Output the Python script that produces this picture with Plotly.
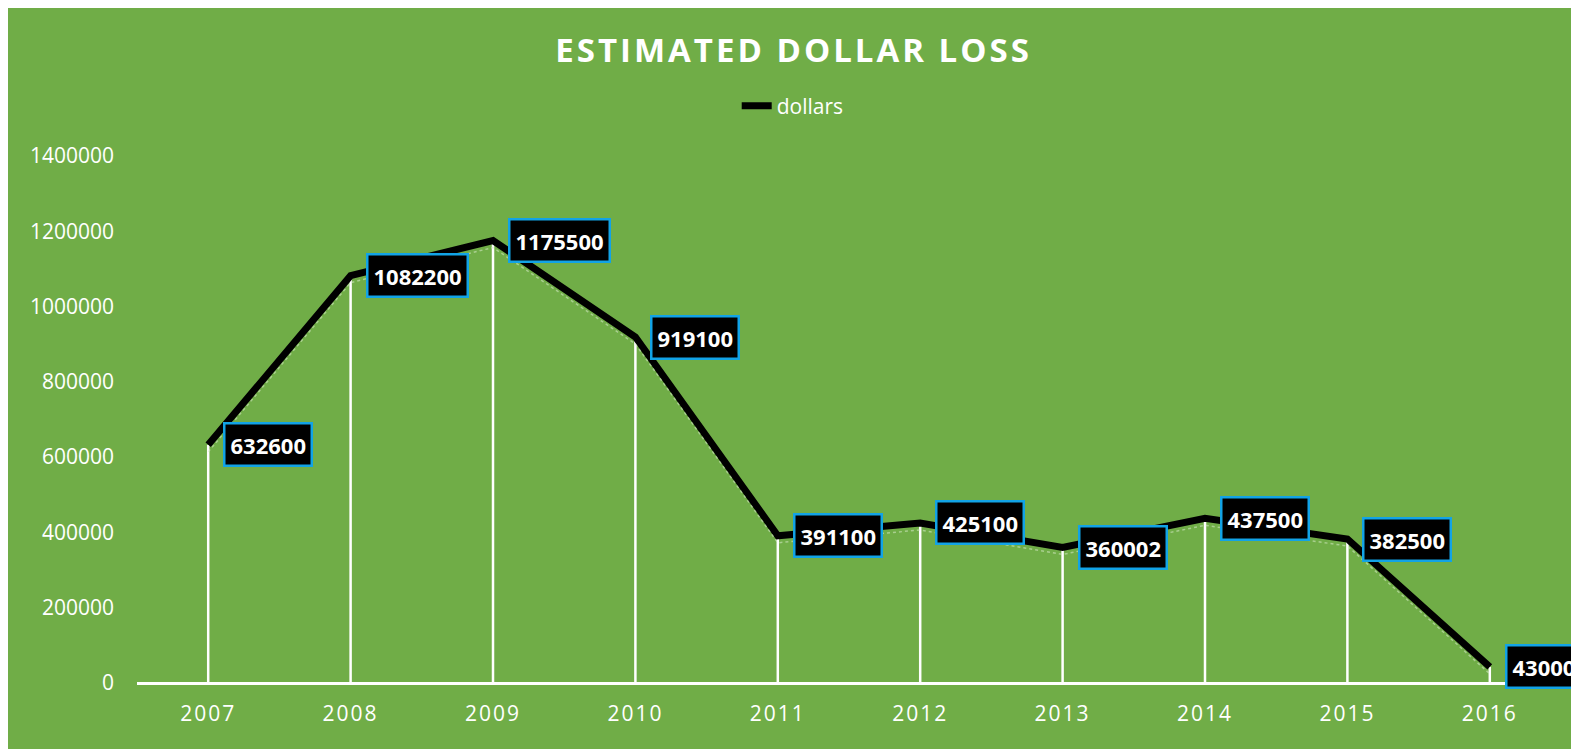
import plotly.graph_objects as go

years = ["2007", "2008", "2009", "2010", "2011", "2012", "2013", "2014", "2015", "2016"]
dollars = [632600, 1082200, 1175500, 919100, 391100, 425100, 360002, 437500, 382500, 43000]
y_ticks = [0, 200000, 400000, 600000, 800000, 1000000, 1200000, 1400000]

GREEN = "#70AD47"
FONT = "Open Sans"
W, H = 1579, 749
Y_MAX = 1400000
PLOT_H = 749 - 148 - 74
SHADOW_PX = 7  # faint shadow line offset, in pixels

xpos = list(range(len(years)))

# white drop lines from axis to each value
drop_x, drop_y = [], []
for i, v in zip(xpos, dollars):
    drop_x += [i, i, None]
    drop_y += [0, v, None]

shift = SHADOW_PX / PLOT_H * Y_MAX

fig = go.Figure()
fig.add_trace(go.Scatter(x=xpos, y=dollars, mode="lines", yaxis="y2",
                         line=dict(color="rgba(215,235,200,0.55)", width=1.5, dash="dot"),
                         showlegend=False, hoverinfo="skip", cliponaxis=False))
fig.add_trace(go.Scatter(x=drop_x, y=drop_y, mode="lines",
                         line=dict(color="white", width=2.5),
                         showlegend=False, hoverinfo="skip", cliponaxis=False))
fig.add_trace(go.Scatter(x=xpos, y=dollars, mode="lines", name="dollars",
                         line=dict(color="black", width=7), cliponaxis=False))

for i, v in zip(xpos, dollars):
    fig.add_annotation(x=i, y=v, text=f"<b>{v}</b>", showarrow=False,
                       xanchor="left", yanchor="middle", xshift=15,
                       bgcolor="black", bordercolor="#12A3E6", borderwidth=2.5,
                       borderpad=5, font=dict(color="white", size=22, family=FONT))

fig.update_layout(
    width=W, height=H,
    paper_bgcolor=GREEN, plot_bgcolor=GREEN,
    margin=dict(l=129, r=26, t=148, b=74),
    title=dict(text='<span style="letter-spacing:3px"><b>ESTIMATED DOLLAR LOSS</b></span>',
               x=0.4975, xanchor="center",
               y=1 - 42 / H, yanchor="middle",
               font=dict(color="white", size=33, family=FONT)),
    legend=dict(orientation="h", xref="container", x=0.4615, xanchor="left",
                yref="container", y=1 - 98 / H, yanchor="middle",
                font=dict(color="white", size=21, family=FONT),
                bgcolor="rgba(0,0,0,0)"),
    showlegend=True,
    xaxis=dict(range=[-0.5, len(years) - 0.5], tickmode="array", tickvals=xpos,
               ticktext=[f'<span style="letter-spacing:2px">{y}</span>' for y in years],
               showgrid=False, zeroline=False, showline=False,
               tickfont=dict(color="white", size=21, family=FONT), ticks="",
               ticklabelstandoff=16),
    yaxis=dict(range=[0, Y_MAX], tickmode="array", tickvals=y_ticks,
               ticktext=[str(t) for t in y_ticks],
               showgrid=False, zeroline=True, zerolinecolor="white", zerolinewidth=2.5,
               showline=False, tickfont=dict(color="white", size=21, family=FONT),
               ticks="", ticklabelstandoff=22),
    yaxis2=dict(range=[shift, Y_MAX + shift], overlaying="y", visible=False),
)

fig.write_html("out.html")
